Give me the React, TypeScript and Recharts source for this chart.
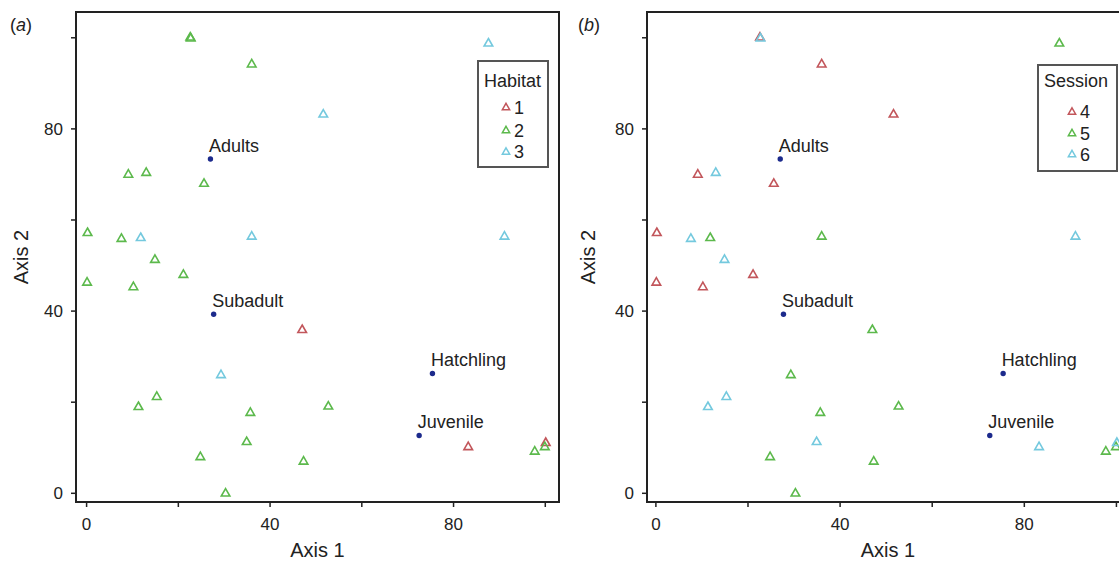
import React from 'react';
import { ScatterChart, Scatter, XAxis, YAxis, ReferenceArea, Legend } from 'recharts';

// ---- data ----
const axis1 = [22.6, 22.7, 87.6, 36.0, 51.6, 9.1, 13.0, 25.6, 0.2, 7.6, 11.8, 36.0, 91.1, 14.9, 21.1, 0.1, 10.2, 47.0, 29.3, 15.3, 11.3, 52.7, 35.7, 34.9, 83.2, 100.1, 99.9, 97.7, 24.8, 47.3, 30.3];
const axis2 = [100.2, 100.0, 98.9, 94.3, 83.3, 70.1, 70.5, 68.1, 57.3, 56.0, 56.2, 56.5, 56.5, 51.4, 48.1, 46.4, 45.4, 36.0, 26.1, 21.3, 19.1, 19.2, 17.8, 11.4, 10.3, 11.2, 10.3, 9.3, 8.1, 7.1, 0.1];
const habitat = [2, 2, 3, 2, 3, 2, 2, 2, 2, 2, 3, 3, 3, 2, 2, 2, 2, 1, 3, 2, 2, 2, 2, 2, 1, 1, 2, 2, 2, 2, 2];
const session = [4, 6, 5, 4, 4, 4, 6, 4, 4, 6, 5, 5, 6, 6, 4, 4, 4, 5, 5, 6, 6, 5, 5, 6, 6, 6, 5, 5, 5, 5, 5];

const stageNames = ['Adults', 'Subadult', 'Hatchling', 'Juvenile'];
const stageAxis1 = [27.0, 27.7, 75.4, 72.5];
const stageAxis2 = [73.4, 39.3, 26.3, 12.7];

const habitatLevels = [1, 2, 3];
const sessionLevels = [4, 5, 6];
const xTicks = [0, 20, 40, 60, 80, 100];
const yTicks = [0, 20, 40, 60, 80, 100];
const labelledTicks = [0, 40, 80];

// ---- styles ----
const FONT = '"Liberation Sans", Arial, Helvetica, sans-serif';
const levelColors = ['#c2565b', '#5cb94c', '#74c9de'];
const INK = '#222';
const STAGE_COLOR = '#1c2a8c';

const triPath = (cx: number, cy: number, s = 1) =>
  `M${cx},${cy - 4.3 * s}L${cx + 4.3 * s},${cy + 3.2 * s}L${cx - 4.3 * s},${cy + 3.2 * s}Z`;

const makeTri = (color: string) => (props: any) => {
  const { cx, cy } = props;
  if (cx == null || cy == null) return <g />;
  return <path d={triPath(cx, cy)} fill="none" stroke={color} strokeWidth={1.6} />;
};

const StageShape = (props: any) => {
  const { cx, cy, payload } = props;
  if (cx == null || cy == null) return <g />;
  return (
    <g>
      <circle cx={cx} cy={cy} r={2.7} fill={STAGE_COLOR} />
      <text x={cx - 1.5} y={cy - 7} fontSize={18} fill={INK} fontFamily={FONT}>
        {payload.name}
      </text>
    </g>
  );
};

const points = axis1.map((x, i) => ({ x, y: axis2[i], habitat: habitat[i], session: session[i] }));
const stages = stageNames.map((name, i) => ({ name, x: stageAxis1[i], y: stageAxis2[i] }));

type PanelProps = {
  groupKey: 'habitat' | 'session';
  levels: number[];
  title: string;
  xDomain: [number, number];
  yDomain: [number, number];
  width: number;
  marginRight: number;
  yAxisWidth: number;
  yTitleGap: number;
  legend: { left: number; top: number; width: number; height: number; titleY: number; rowY: number[]; triX: number };
};

const LegendBox = ({ cfg, title, levels }: { cfg: PanelProps['legend']; title: string; levels: number[] }) => (
  <svg width={cfg.width} height={cfg.height} style={{ display: 'block', overflow: 'visible' }}>
    <rect x={1} y={1} width={cfg.width - 2} height={cfg.height - 2} fill="#fff" stroke="#555" strokeWidth={2} />
    <text x={7} y={cfg.titleY} fontSize={18} fill={INK} fontFamily={FONT}>
      {title}
    </text>
    {levels.map((lv, i) => (
      <g key={lv}>
        <path d={triPath(cfg.triX, cfg.rowY[i], 0.85)} fill="none" stroke={levelColors[i]} strokeWidth={1.5} />
        <text x={cfg.triX + 8} y={cfg.rowY[i] + 6.5} fontSize={18} fill={INK} fontFamily={FONT}>
          {String(lv)}
        </text>
      </g>
    ))}
  </svg>
);

const Panel = (p: PanelProps) => {
  const tickFmt = (v: number) => (labelledTicks.includes(v) ? String(v) : '');
  return (
    <ScatterChart
      width={p.width}
      height={561}
      margin={{ top: 12, right: p.marginRight, bottom: 0, left: 0 }}
      style={{ fontFamily: FONT }}
    >
      <XAxis
        type="number"
        dataKey="x"
        domain={p.xDomain}
        allowDataOverflow
        ticks={xTicks}
        tickFormatter={tickFmt}
        height={59}
        tickSize={5}
        tickMargin={11}
        axisLine={{ stroke: INK, strokeWidth: 2 }}
        tickLine={{ stroke: INK, strokeWidth: 1.5 }}
        tick={{ fontSize: 17, fill: INK, fontFamily: FONT }}
        label={{
          content: (lp: any) => {
            const vb = lp.viewBox || {};
            return (
              <text x={vb.x + vb.width / 2} y={vb.y + 54.5} textAnchor="middle" fontSize={20} fill={INK} fontFamily={FONT}>
                Axis 1
              </text>
            );
          },
        }}
      />
      <YAxis
        type="number"
        dataKey="y"
        domain={p.yDomain}
        allowDataOverflow
        ticks={yTicks}
        tickFormatter={tickFmt}
        width={p.yAxisWidth}
        tickSize={5}
        tickMargin={8}
        axisLine={{ stroke: INK, strokeWidth: 2 }}
        tickLine={{ stroke: INK, strokeWidth: 1.5 }}
        tick={{ fontSize: 17, fill: INK, fontFamily: FONT }}
        label={{
          content: (lp: any) => {
            const vb = lp.viewBox || {};
            const cx = vb.x + vb.width - p.yTitleGap;
            const cy = vb.y + vb.height / 2;
            return (
              <text
                x={cx}
                y={cy}
                transform={`rotate(-90 ${cx} ${cy})`}
                textAnchor="middle"
                dominantBaseline="central"
                fontSize={20}
                fill={INK}
                fontFamily={FONT}
              >
                Axis 2
              </text>
            );
          },
        }}
      />
      <ReferenceArea
        x1={p.xDomain[0]}
        x2={p.xDomain[1]}
        y1={p.yDomain[0]}
        y2={p.yDomain[1]}
        fill="none"
        fillOpacity={0}
        stroke={INK}
        strokeWidth={2}
        ifOverflow="visible"
      />
      {p.levels.map((lv, i) => (
        <Scatter
          key={lv}
          name={String(lv)}
          data={points.filter((d) => d[p.groupKey] === lv)}
          shape={makeTri(levelColors[i])}
          isAnimationActive={false}
        />
      ))}
      <Scatter name="stage" data={stages} shape={StageShape} isAnimationActive={false} legendType="none" />
      <Legend
        layout="vertical"
        align="center"
        verticalAlign="middle"
        wrapperStyle={{ left: p.legend.left, top: p.legend.top, width: p.legend.width, height: p.legend.height }}
        content={() => <LegendBox cfg={p.legend} title={p.title} levels={p.levels} />}
      />
    </ScatterChart>
  );
};

export default function App() {
  return (
    <div
      style={{
        position: 'absolute',
        left: 0,
        top: 0,
        width: 1119,
        height: 561,
        overflow: 'hidden',
        background: '#fff',
        fontFamily: FONT,
      }}
    >
      <div style={{ position: 'absolute', left: 0, top: 0 }}>
        <Panel
          groupKey="habitat"
          levels={habitatLevels}
          title="Habitat"
          xDomain={[-2.31, 102.99]}
          yDomain={[-1.91, 105.66]}
          width={560}
          marginRight={1}
          yAxisWidth={76}
          yTitleGap={55.5}
          legend={{ left: 477, top: 60, width: 72, height: 108, titleY: 27, rowY: [47, 70, 91.5], triX: 29 }}
        />
      </div>
      <div style={{ position: 'absolute', left: 560, top: 0 }}>
        <Panel
          groupKey="session"
          levels={sessionLevels}
          title="Session"
          xDomain={[-1.93, 102.73]}
          yDomain={[-1.91, 105.66]}
          width={580}
          marginRight={11}
          yAxisWidth={87}
          yTitleGap={59}
          legend={{ left: 477, top: 64, width: 81, height: 108, titleY: 23, rowY: [47.5, 69, 90], triX: 35 }}
        />
      </div>
      <svg style={{ position: 'absolute', left: 0, top: 0, pointerEvents: 'none' }} width={1119} height={561}>
        <text x={10} y={31} fontSize={18} fill={INK} fontFamily={FONT}>
          (<tspan fontStyle="italic">a</tspan>)
        </text>
        <text x={578} y={31} fontSize={18} fill={INK} fontFamily={FONT}>
          (<tspan fontStyle="italic">b</tspan>)
        </text>
      </svg>
    </div>
  );
}
